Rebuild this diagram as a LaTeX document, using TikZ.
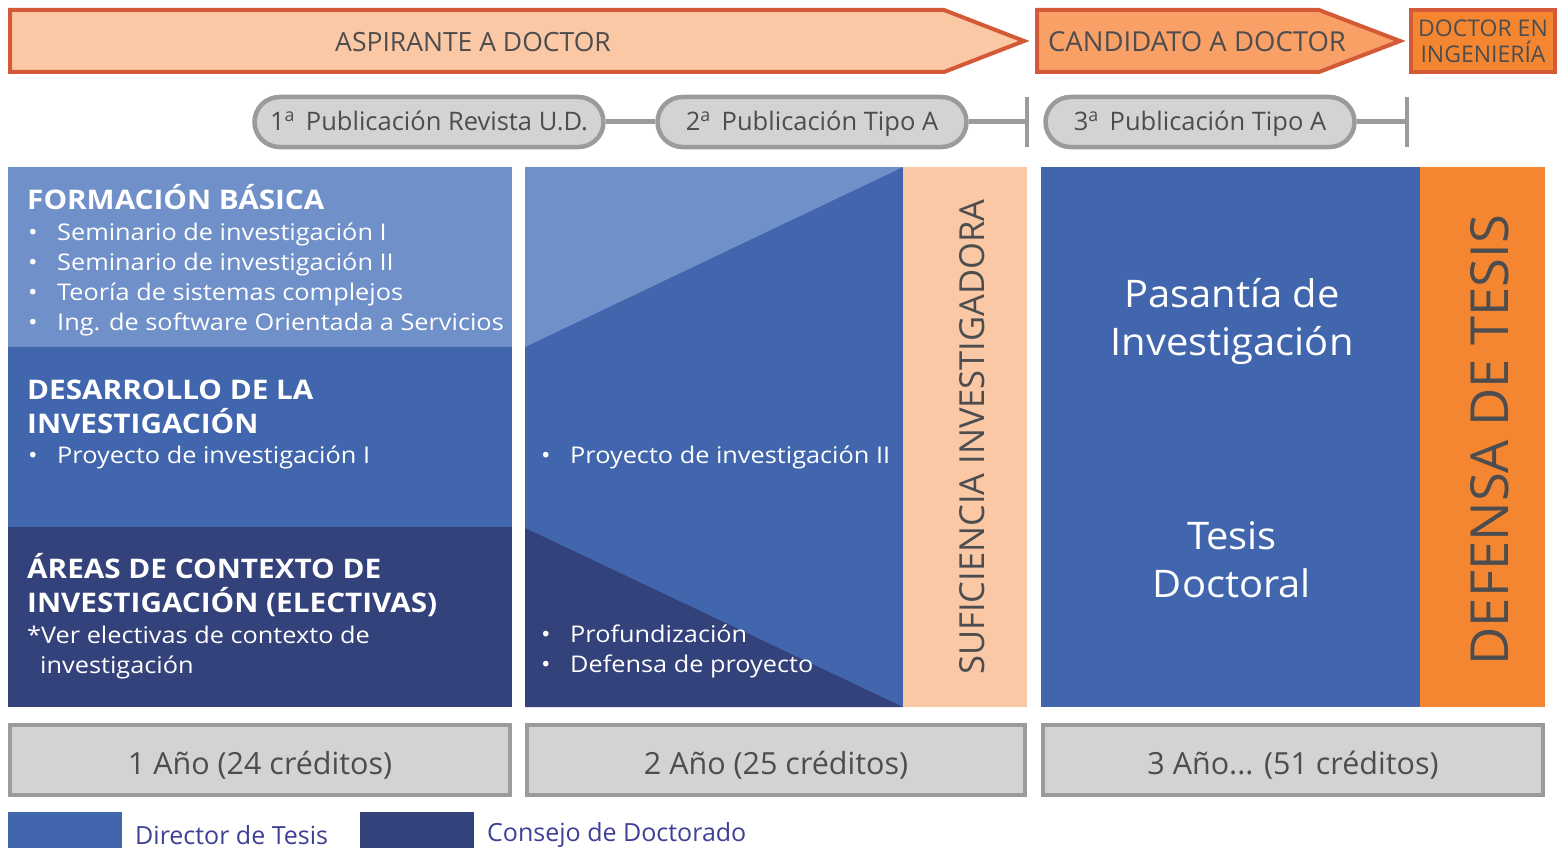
\documentclass[tikz,border=0pt]{standalone}
\usepackage{fontspec}
\setmainfont{Open Sans}
\newfontfamily\widefont[FakeStretch=1.1]{Open Sans}
\newfontfamily\midfont[FakeStretch=1.05]{Open Sans}
\usetikzlibrary{positioning,calc}

\definecolor{peachlight}{HTML}{FAC8A5}
\definecolor{peachmid}{HTML}{F9A066}
\definecolor{orangedoc}{HTML}{F48631}
\definecolor{stageline}{HTML}{D45A37}
\definecolor{txtgray}{HTML}{4D4D4F}
\definecolor{pillfill}{HTML}{D2D3D5}
\definecolor{pillline}{HTML}{9A9B9D}
\definecolor{bluelight}{HTML}{7090C9}
\definecolor{bluemid}{HTML}{4266AE}
\definecolor{bluedark}{HTML}{33427A}
\definecolor{legendtxt}{HTML}{3E4095}

\newcommand{\fsz}[2]{\fontsize{#1}{#2}\selectfont}
\newcommand{\blt}{\makebox[29pt][l]{\textbullet}}

\tikzset{
  stage/.style={draw=stageline, line width=4pt},
  stagetext/.style={text=txtgray, inner sep=0pt, font=\fsz{26.5}{30}},
  pill/.style={draw=pillline, fill=pillfill, line width=4.5pt, rounded corners=25pt,
    minimum height=50pt, inner sep=0pt, text height=22pt, text depth=4pt,
    text=txtgray, font=\fsz{25.5}{28}},
  link/.style={draw=pillline, line width=5pt},
  block/.style={anchor=north west, inner sep=0pt, outer sep=0pt, minimum height=540pt},
  band/.style={anchor=north west, inner sep=0pt, outer sep=0pt, minimum width=504pt, minimum height=180pt},
  head/.style={anchor=base west, inner sep=0pt, text=white, align=left, font=\widefont\bfseries\fsz{27}{34}},
  items/.style={anchor=base west, inner sep=0pt, text=white, align=left, font=\widefont\fsz{23}{30}},
  big/.style={text=white, align=center, inner sep=0pt, font=\midfont\fsz{38}{48}},
  vertical/.style={rotate=90, text=txtgray, inner sep=0pt},
  yearbox/.style={draw=pillline, fill=pillfill, line width=4pt, minimum height=70pt,
    inner sep=0pt, text height=30pt, text depth=2pt, text=txtgray, font=\fsz{30.5}{32}},
  legendbox/.style={minimum width=114pt, minimum height=36pt, inner sep=0pt, anchor=north west},
  legendtext/.style={anchor=base west, inner sep=0pt, text=legendtxt, font=\fsz{25}{28}},
}

\begin{document}
\begin{tikzpicture}[x=1pt,y=-1pt]
\useasboundingbox (0,0) rectangle (1562,848);

% etapas
\draw [stage, fill=peachlight] (10,10) -- (944,10) -- (1024,41) -- (944,72) -- (10,72) -- cycle;
\draw [stage, fill=peachmid] (1037,10) -- (1319,10) -- (1400,41) -- (1319,72) -- (1037,72) -- cycle;
\node [stagetext] (aspirante) at (473,42) {ASPIRANTE A DOCTOR};
\node [stagetext, font=\fsz{27.5}{30}] (candidato) at (1197,42) {CANDIDATO A DOCTOR};
\node [stage, fill=orangedoc, minimum width=144pt, minimum height=62pt, inner sep=0pt,
  text=txtgray, align=center, font=\fsz{23}{26}] (doctor) at (1483,41) {DOCTOR EN\\INGENIERÍA};

% publicaciones
\node [pill, minimum width=349pt] (pub1) at (429,122) {1\textsuperscript{a}\, Publicación Revista U.D.};
\node [pill, minimum width=309pt] (pub2) at (812,122) {2\textsuperscript{a}\, Publicación Tipo A};
\node [pill, minimum width=309pt] (pub3) at (1200,122) {3\textsuperscript{a}\, Publicación Tipo A};
\coordinate (fin1) at (1027,122);
\coordinate (fin2) at (1407,122);
\draw [link] (pub1) -- (pub2);
\draw [link] (pub2) -- (fin1);
\draw [link] (pub3) -- (fin2);
\draw [link, line width=4pt] ($(fin1)+(0,-25)$) -- ($(fin1)+(0,25)$);
\draw [link, line width=4pt] ($(fin2)+(0,-25)$) -- ($(fin2)+(0,25)$);

% primer año
\node [band, fill=bluelight] (fb) at (8,167) {};
\node [band, fill=bluemid] (di) at (8,347) {};
\node [band, fill=bluedark] (ac) at (8,527) {};
\node [head] (fbh) at (27,209) {FORMACIÓN BÁSICA};
\node [items] (fbi) at (28,330) {\blt Seminario de investigación I\\\blt Seminario de investigación II\\
  \blt Teoría de sistemas complejos\\\blt Ing. de software Orientada a Servicios};
\node [head] (dih) at (27,433) {DESARROLLO DE LA\\INVESTIGACIÓN};
\node [items] (dii) at (28,463) {\blt Proyecto de investigación I};
\node [head] (ach) at (27,612) {ÁREAS DE CONTEXTO DE\\INVESTIGACIÓN (ELECTIVAS)};
\node [items] (aci) at (27,673) {*Ver electivas de contexto de\\\hspace{13pt}investigación};

% segundo año
\node [block, fill=bluemid, minimum width=378pt] (pi) at (525,167) {};
\fill [bluelight] (pi.north west) -- (pi.north east) -- ($(pi.north west)+(0,180)$) -- cycle;
\fill [bluedark] ($(pi.north west)+(0,361)$) -- (pi.south east) -- (pi.south west) -- cycle;
\node [items] (pii) at (541,463) {\blt Proyecto de investigación II};
\node [items] (pdi) at (541,672) {\blt Profundización\\\blt Defensa de proyecto};
\node [block, fill=peachlight, minimum width=124pt] (si) at (903,167) {};
\node [vertical, font=\fsz{34.5}{36}] (sit) at (972,437) {SUFICIENCIA INVESTIGADORA};

% tercer año
\node [block, fill=bluemid, minimum width=379pt] (pt) at (1041,167) {};
\node [block, fill=orangedoc, minimum width=125pt] (dt) at (1420,167) {};
\node [big] (pas) at (1232,322) {Pasantía de\\Investigación};
\node [big] (tes) at (1232,560) {Tesis\\Doctoral};
\node [vertical, font=\fsz{52.5}{54}] (dtt) at (1490,440) {DEFENSA DE TESIS};

% años
\node [yearbox, minimum width=500pt] (y1) at (260,760) {1 Año (24 créditos)};
\node [yearbox, minimum width=498pt] (y2) at (776,760) {2 Año (25 créditos)};
\node [yearbox, minimum width=500pt] (y3) at (1293,760) {3 Año... (51 créditos)};

% convenciones
\node [legendbox, fill=bluemid] (l1) at (8,812) {};
\node [legendtext] (l1t) at (135,844) {Director de Tesis};
\node [legendbox, fill=bluedark] (l2) at (360,812) {};
\node [legendtext] (l2t) at (487,841) {Consejo de Doctorado};
\end{tikzpicture}
\end{document}
